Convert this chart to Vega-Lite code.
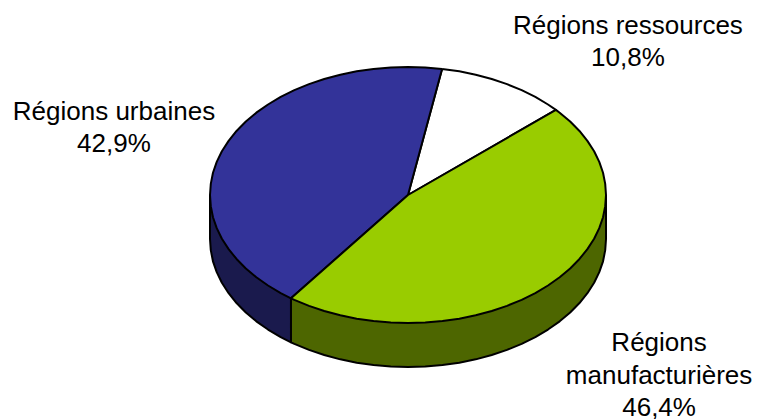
{"$schema":"https://vega.github.io/schema/vega-lite/v6.json","width":757,"height":419,"padding":0,"autosize":{"type":"none"},"background":"white","view":{"stroke":null},
"datasets":{
"sides":[
{"part":"urbaines-side","i":1,"u":-1,"v":0},{"part":"urbaines-side","i":2,"u":-1,"v":-0.344},{"part":"urbaines-side","i":3,"u":-0.996,"v":-0.431},{"part":"urbaines-side","i":4,"u":-0.985,"v":-0.518},{"part":"urbaines-side","i":5,"u":-0.966,"v":-0.603},{"part":"urbaines-side","i":6,"u":-0.94,"v":-0.686},{"part":"urbaines-side","i":7,"u":-0.906,"v":-0.767},{"part":"urbaines-side","i":8,"u":-0.866,"v":-0.844},{"part":"urbaines-side","i":9,"u":-0.819,"v":-0.918},{"part":"urbaines-side","i":10,"u":-0.766,"v":-0.987},{"part":"urbaines-side","i":11,"u":-0.707,"v":-1.051},{"part":"urbaines-side","i":12,"u":-0.643,"v":-1.11},{"part":"urbaines-side","i":13,"u":-0.591,"v":-1.151},{"part":"urbaines-side","i":14,"u":-0.591,"v":-0.807},{"part":"urbaines-side","i":15,"u":-1,"v":0},
{"part":"manuf-side","i":1,"u":1,"v":0},{"part":"manuf-side","i":2,"u":1,"v":-0.344},{"part":"manuf-side","i":3,"u":0.996,"v":-0.431},{"part":"manuf-side","i":4,"u":0.985,"v":-0.518},{"part":"manuf-side","i":5,"u":0.966,"v":-0.603},{"part":"manuf-side","i":6,"u":0.94,"v":-0.686},{"part":"manuf-side","i":7,"u":0.906,"v":-0.767},{"part":"manuf-side","i":8,"u":0.866,"v":-0.844},{"part":"manuf-side","i":9,"u":0.819,"v":-0.918},{"part":"manuf-side","i":10,"u":0.766,"v":-0.987},{"part":"manuf-side","i":11,"u":0.707,"v":-1.051},{"part":"manuf-side","i":12,"u":0.643,"v":-1.11},{"part":"manuf-side","i":13,"u":0.574,"v":-1.163},{"part":"manuf-side","i":14,"u":0.5,"v":-1.21},{"part":"manuf-side","i":15,"u":0.423,"v":-1.25},{"part":"manuf-side","i":16,"u":0.342,"v":-1.284},{"part":"manuf-side","i":17,"u":0.259,"v":-1.31},{"part":"manuf-side","i":18,"u":0.174,"v":-1.329},{"part":"manuf-side","i":19,"u":0.087,"v":-1.34},{"part":"manuf-side","i":20,"u":0,"v":-1.344},{"part":"manuf-side","i":21,"u":-0.087,"v":-1.34},{"part":"manuf-side","i":22,"u":-0.174,"v":-1.329},{"part":"manuf-side","i":23,"u":-0.259,"v":-1.31},{"part":"manuf-side","i":24,"u":-0.342,"v":-1.284},{"part":"manuf-side","i":25,"u":-0.423,"v":-1.25},{"part":"manuf-side","i":26,"u":-0.5,"v":-1.21},{"part":"manuf-side","i":27,"u":-0.574,"v":-1.163},{"part":"manuf-side","i":28,"u":-0.591,"v":-1.151},{"part":"manuf-side","i":29,"u":-0.591,"v":-0.807},{"part":"manuf-side","i":30,"u":1,"v":0}
],
"tops":[
{"part":"ressources","i":1,"u":0.172,"v":0.985},{"part":"ressources","i":2,"u":0.259,"v":0.966},{"part":"ressources","i":3,"u":0.342,"v":0.94},{"part":"ressources","i":4,"u":0.423,"v":0.906},{"part":"ressources","i":5,"u":0.5,"v":0.866},{"part":"ressources","i":6,"u":0.574,"v":0.819},{"part":"ressources","i":7,"u":0.643,"v":0.766},{"part":"ressources","i":8,"u":0.707,"v":0.707},{"part":"ressources","i":9,"u":0.747,"v":0.665},{"part":"ressources","i":10,"u":0,"v":0},{"part":"ressources","i":11,"u":0.172,"v":0.985},
{"part":"urbaines","i":1,"u":0.172,"v":0.985},{"part":"urbaines","i":2,"u":0.087,"v":0.996},{"part":"urbaines","i":3,"u":0,"v":1},{"part":"urbaines","i":4,"u":-0.087,"v":0.996},{"part":"urbaines","i":5,"u":-0.174,"v":0.985},{"part":"urbaines","i":6,"u":-0.259,"v":0.966},{"part":"urbaines","i":7,"u":-0.342,"v":0.94},{"part":"urbaines","i":8,"u":-0.423,"v":0.906},{"part":"urbaines","i":9,"u":-0.5,"v":0.866},{"part":"urbaines","i":10,"u":-0.574,"v":0.819},{"part":"urbaines","i":11,"u":-0.643,"v":0.766},{"part":"urbaines","i":12,"u":-0.707,"v":0.707},{"part":"urbaines","i":13,"u":-0.766,"v":0.643},{"part":"urbaines","i":14,"u":-0.819,"v":0.574},{"part":"urbaines","i":15,"u":-0.866,"v":0.5},{"part":"urbaines","i":16,"u":-0.906,"v":0.423},{"part":"urbaines","i":17,"u":-0.94,"v":0.342},{"part":"urbaines","i":18,"u":-0.966,"v":0.259},{"part":"urbaines","i":19,"u":-0.985,"v":0.174},{"part":"urbaines","i":20,"u":-0.996,"v":0.087},{"part":"urbaines","i":21,"u":-1,"v":0},{"part":"urbaines","i":22,"u":-0.996,"v":-0.087},{"part":"urbaines","i":23,"u":-0.985,"v":-0.174},{"part":"urbaines","i":24,"u":-0.966,"v":-0.259},{"part":"urbaines","i":25,"u":-0.94,"v":-0.342},{"part":"urbaines","i":26,"u":-0.906,"v":-0.423},{"part":"urbaines","i":27,"u":-0.866,"v":-0.5},{"part":"urbaines","i":28,"u":-0.819,"v":-0.574},{"part":"urbaines","i":29,"u":-0.766,"v":-0.643},{"part":"urbaines","i":30,"u":-0.707,"v":-0.707},{"part":"urbaines","i":31,"u":-0.643,"v":-0.766},{"part":"urbaines","i":32,"u":-0.591,"v":-0.807},{"part":"urbaines","i":33,"u":0,"v":0},{"part":"urbaines","i":34,"u":0.172,"v":0.985},
{"part":"manuf","i":1,"u":0.747,"v":0.665},{"part":"manuf","i":2,"u":0.766,"v":0.643},{"part":"manuf","i":3,"u":0.819,"v":0.574},{"part":"manuf","i":4,"u":0.866,"v":0.5},{"part":"manuf","i":5,"u":0.906,"v":0.423},{"part":"manuf","i":6,"u":0.94,"v":0.342},{"part":"manuf","i":7,"u":0.966,"v":0.259},{"part":"manuf","i":8,"u":0.985,"v":0.174},{"part":"manuf","i":9,"u":0.996,"v":0.087},{"part":"manuf","i":10,"u":1,"v":0},{"part":"manuf","i":11,"u":0.996,"v":-0.087},{"part":"manuf","i":12,"u":0.985,"v":-0.174},{"part":"manuf","i":13,"u":0.966,"v":-0.259},{"part":"manuf","i":14,"u":0.94,"v":-0.342},{"part":"manuf","i":15,"u":0.906,"v":-0.423},{"part":"manuf","i":16,"u":0.866,"v":-0.5},{"part":"manuf","i":17,"u":0.819,"v":-0.574},{"part":"manuf","i":18,"u":0.766,"v":-0.643},{"part":"manuf","i":19,"u":0.707,"v":-0.707},{"part":"manuf","i":20,"u":0.643,"v":-0.766},{"part":"manuf","i":21,"u":0.574,"v":-0.819},{"part":"manuf","i":22,"u":0.5,"v":-0.866},{"part":"manuf","i":23,"u":0.423,"v":-0.906},{"part":"manuf","i":24,"u":0.342,"v":-0.94},{"part":"manuf","i":25,"u":0.259,"v":-0.966},{"part":"manuf","i":26,"u":0.174,"v":-0.985},{"part":"manuf","i":27,"u":0.087,"v":-0.996},{"part":"manuf","i":28,"u":0,"v":-1},{"part":"manuf","i":29,"u":-0.087,"v":-0.996},{"part":"manuf","i":30,"u":-0.174,"v":-0.985},{"part":"manuf","i":31,"u":-0.259,"v":-0.966},{"part":"manuf","i":32,"u":-0.342,"v":-0.94},{"part":"manuf","i":33,"u":-0.423,"v":-0.906},{"part":"manuf","i":34,"u":-0.5,"v":-0.866},{"part":"manuf","i":35,"u":-0.574,"v":-0.819},{"part":"manuf","i":36,"u":-0.591,"v":-0.807},{"part":"manuf","i":37,"u":0,"v":0},{"part":"manuf","i":38,"u":0.747,"v":0.665}
],
"labels":[
{"text":"Régions ressources","u":1.111,"v":1.32},{"text":"10,8%","u":1.111,"v":1.07},
{"text":"Régions urbaines","u":-1.485,"v":0.648},{"text":"42,9%","u":-1.485,"v":0.398},
{"text":"Régions","u":1.268,"v":-1.156},{"text":"manufacturières","u":1.268,"v":-1.414},{"text":"46,4%","u":1.268,"v":-1.664}
]},
"resolve":{"scale":{"fill":"shared"}},
"encoding":{
"x":{"field":"u","type":"quantitative","axis":null,"scale":{"domain":[-2.0606,1.7626],"nice":false,"zero":false}},
"y":{"field":"v","type":"quantitative","axis":null,"scale":{"domain":[-1.75,1.5234],"nice":false,"zero":false}}
},
"layer":[
{"data":{"name":"sides"},"mark":{"type":"line","filled":true,"stroke":"black","strokeWidth":2,"strokeJoin":"round","clip":false},
"encoding":{"order":{"field":"i","type":"quantitative"},"fill":{"field":"part","type":"nominal","legend":null,"scale":{"domain":["urbaines-side","manuf-side","ressources","urbaines","manuf"],"range":["#1A1A4D","#4D6600","#FFFFFF","#333399","#99CC00"]}}}},
{"data":{"name":"tops"},"mark":{"type":"line","filled":true,"stroke":"black","strokeWidth":2,"strokeJoin":"round","clip":false},
"encoding":{"order":{"field":"i","type":"quantitative"},"fill":{"field":"part","type":"nominal","legend":null,"scale":{"domain":["urbaines-side","manuf-side","ressources","urbaines","manuf"],"range":["#1A1A4D","#4D6600","#FFFFFF","#333399","#99CC00"]}}}},
{"data":{"name":"labels"},"mark":{"type":"text","font":"Liberation Sans","fontSize":26,"align":"center","baseline":"middle","color":"black"},"encoding":{"text":{"field":"text","type":"nominal"}}}
]}
